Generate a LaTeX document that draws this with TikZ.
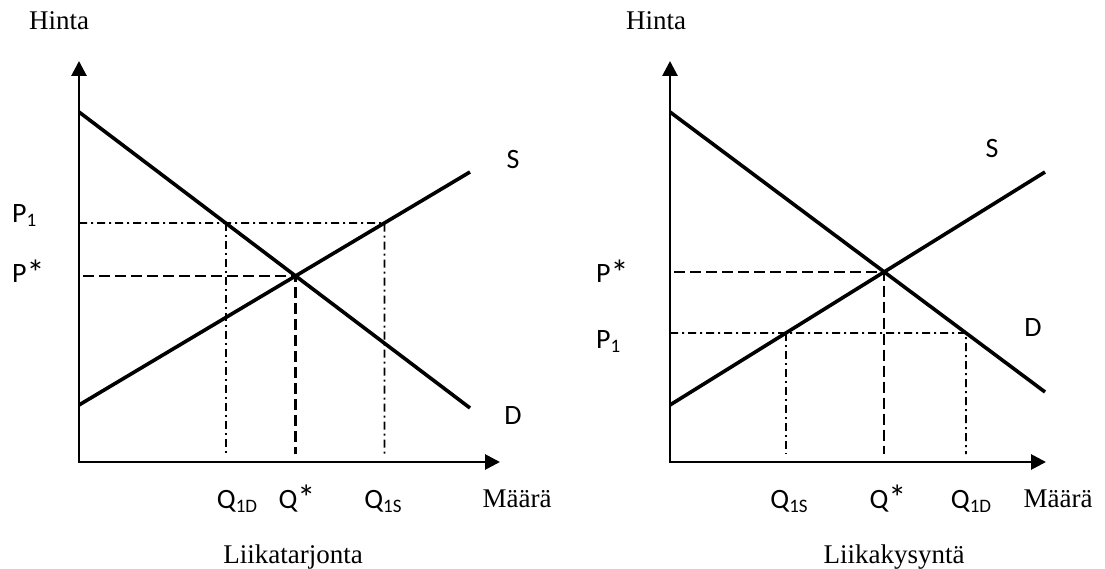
\documentclass[tikz,border=0pt]{standalone}
\usepackage{fontspec}
\setmainfont{Liberation Serif}
\newfontfamily\calibri{Carlito}
\usetikzlibrary{arrows.meta}
\tikzset{
  axisline/.style={line width=2.8pt,{Triangle[length=15pt,width=15pt]}-{Triangle[length=15pt,width=15pt]}},
  curve/.style={line width=3.6pt},
  eqline/.style={line width=2.3pt,dash pattern=on 11pt off 5pt},
  pline/.style={line width=1.8pt,dash pattern=on 8pt off 4pt on 2pt off 4pt},
  word/.style={font=\fontsize{27}{31}\selectfont,inner sep=0pt},
  sym/.style={font=\calibri\fontsize{28}{32}\selectfont,inner sep=0pt},
}
\newcommand{\low}[1]{\raisebox{-4pt}{\fontsize{19}{19}\selectfont #1}}
\newcommand{\stx}{\raisebox{-2pt}{\fontsize{36}{36}\selectfont *}}
\begin{document}
\begin{tikzpicture}[x=1pt,y=-1pt]
\useasboundingbox (0,0) rectangle (1105,569);
% Liikatarjonta
\coordinate (ltop) at (79,61);
\coordinate (lO) at (79,462);
\coordinate (lend) at (500,462);
\coordinate (lfoot) at (79,454);
\coordinate (lD1) at (79,112);
\coordinate (lD2) at (470,408);
\coordinate (lS1) at (79,405);
\coordinate (lS2) at (470,172);
\coordinate (lP1) at (79,223);
\coordinate (lP1r) at (470,223);
\coordinate (lE) at (intersection of lD1--lD2 and lS1--lS2);
\coordinate (lQD) at (intersection of lD1--lD2 and lP1--lP1r);
\coordinate (lQS) at (intersection of lS1--lS2 and lP1--lP1r);
\draw[axisline] (ltop) -- (lO) -- (lend);
\draw[curve] (lD1) -- (lD2);
\draw[curve] (lS1) -- (lS2);
\draw[eqline] ([xshift=4pt]lE -| lO) -- (lE) -- (lE |- lfoot);
\draw[pline] (lP1) -- (lQS) -- (lQS |- lfoot);
\draw[pline] (lQD) -- (lQD |- lfoot);
\node[word,anchor=base] (lhinta) at (59,30) {Hinta};
\node[word,anchor=base] (lmaara) at (517,507) {Määrä};
\node[word,anchor=base] (ltitle) at (293,563) {Liikatarjonta};
\node[sym,anchor=base west] (lp1) at (12,223) {P\low{1}};
\node[sym,anchor=base west] (lps) at (12,283) {P\stx};
\node[sym,anchor=base] (ls) at (513,169) {S};
\node[sym,anchor=base] (ld) at (513,424) {D};
\node[sym,anchor=base] (lq1d) at (237,508) {Q\low{1D}};
\node[sym,anchor=base] (lqs) at (297,508) {Q\stx};
\node[sym,anchor=base] (lq1s) at (383,508) {Q\low{1S}};
% Liikakysyntä
\coordinate (rtop) at (670,61);
\coordinate (rO) at (670,462);
\coordinate (rend) at (1046,462);
\coordinate (rfoot) at (670,454);
\coordinate (rD1) at (670,112);
\coordinate (rD2) at (1045,392);
\coordinate (rS1) at (670,405);
\coordinate (rS2) at (1045,172);
\coordinate (rP1) at (670,333);
\coordinate (rP1r) at (1045,333);
\coordinate (rE) at (intersection of rD1--rD2 and rS1--rS2);
\coordinate (rQD) at (intersection of rD1--rD2 and rP1--rP1r);
\coordinate (rQS) at (intersection of rS1--rS2 and rP1--rP1r);
\draw[axisline] (rtop) -- (rO) -- (rend);
\draw[curve] (rD1) -- (rD2);
\draw[curve] (rS1) -- (rS2);
\draw[eqline] ([xshift=4pt]rE -| rO) -- (rE) -- (rE |- rfoot);
\draw[pline] (rP1) -- (rQD) -- (rQD |- rfoot);
\draw[pline] (rQS) -- (rQS |- rfoot);
\node[word,anchor=base] (rhinta) at (656,30) {Hinta};
\node[word,anchor=base] (rmaara) at (1058,507) {Määrä};
\node[word,anchor=base] (rtitle) at (894,563) {Liikakysyntä};
\node[sym,anchor=base west] (rps) at (596,283) {P\stx};
\node[sym,anchor=base west] (rp1) at (596,348) {P\low{1}};
\node[sym,anchor=base] (rs) at (992,158) {S};
\node[sym,anchor=base] (rd) at (1033,336) {D};
\node[sym,anchor=base] (rq1s) at (789,508) {Q\low{1S}};
\node[sym,anchor=base] (rqs) at (888,508) {Q\stx};
\node[sym,anchor=base] (rq1d) at (971,508) {Q\low{1D}};
\end{tikzpicture}
\end{document}
